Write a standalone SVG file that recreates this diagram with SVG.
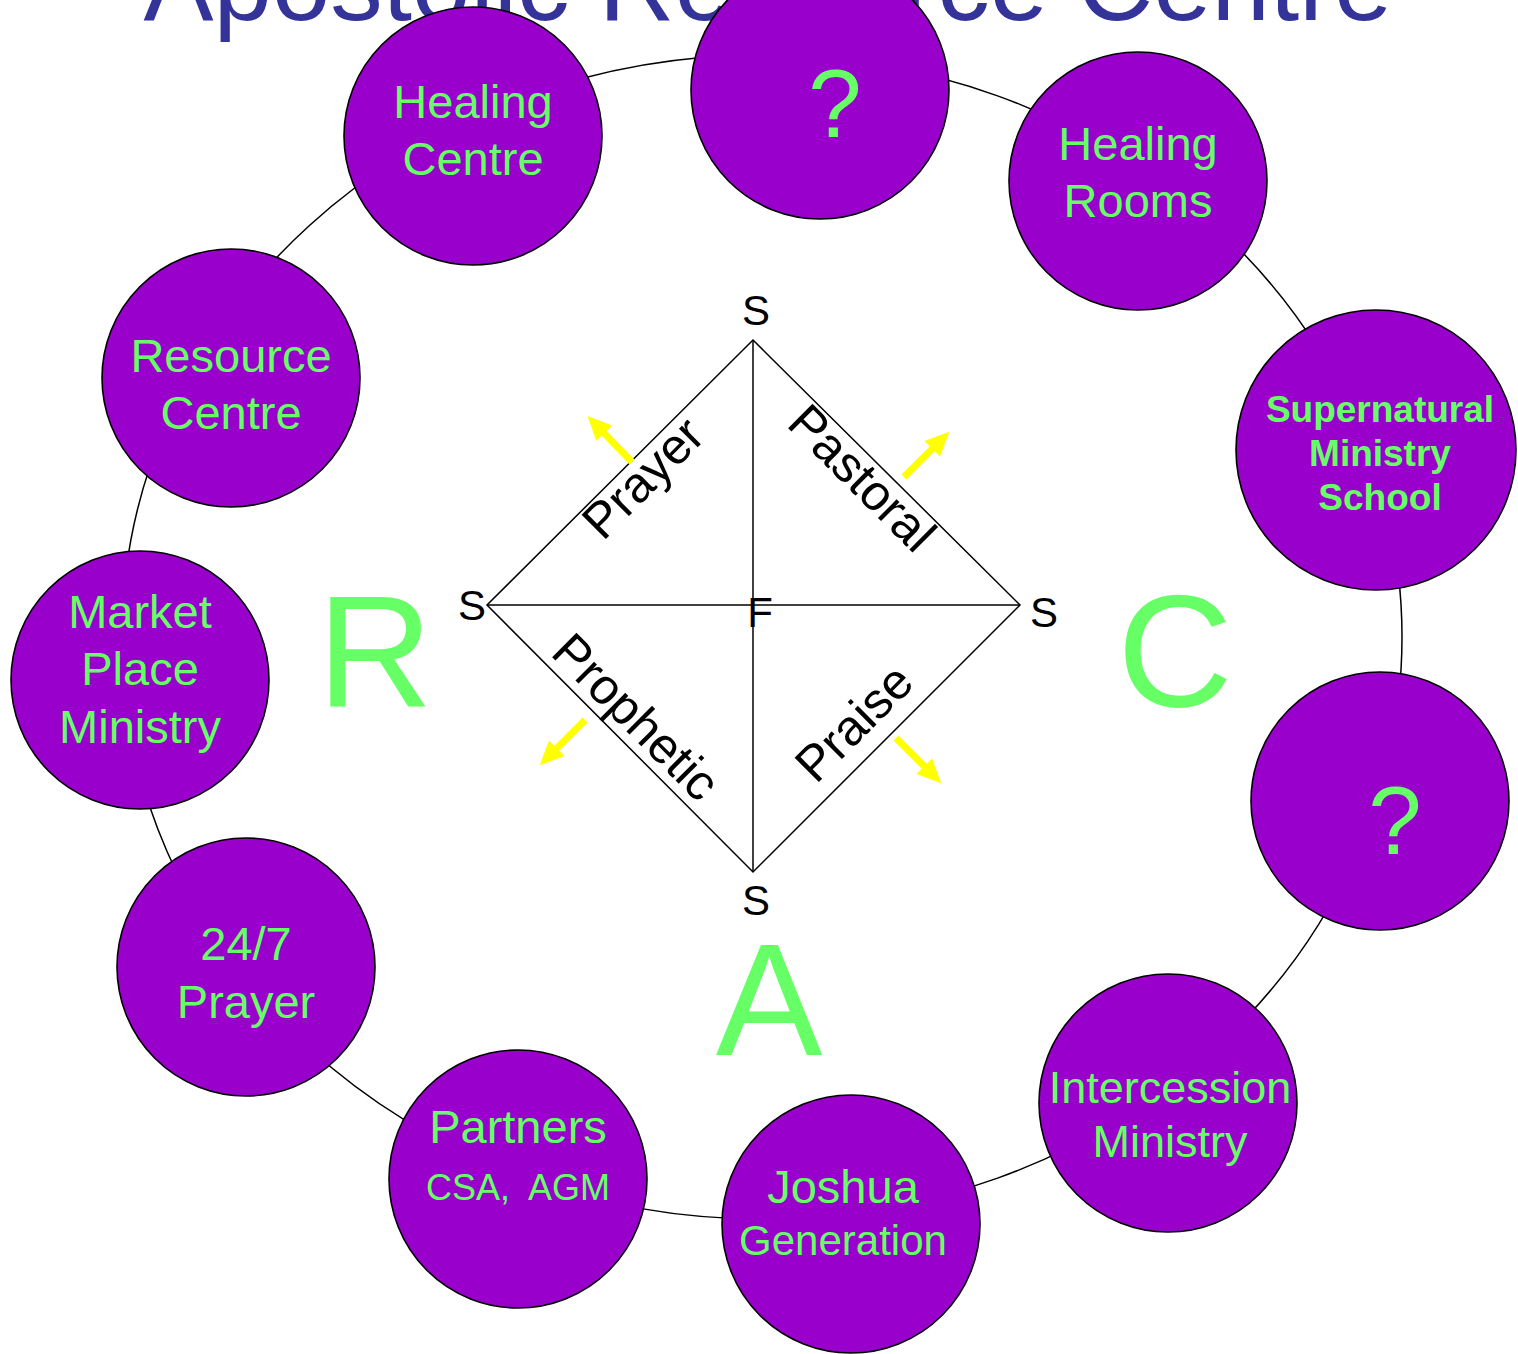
<svg xmlns="http://www.w3.org/2000/svg" width="1518" height="1354" viewBox="0 0 1518 1354">
<defs>
<style>
.node circle{fill:#9900CC;stroke:#000;stroke-width:1.6}
.lbl{font-family:"Liberation Sans",Arial,sans-serif;fill:#66FF66;text-anchor:middle;font-size:47px}
.bold{font-weight:bold;font-size:37px}
.q{font-size:96px}
.s45{font-size:45px}
.s42{font-size:42px}
.s36{font-size:36px}
.big{font-family:"Liberation Sans",Arial,sans-serif;fill:#66FF66;text-anchor:middle;font-size:160px}
.blk{font-family:"Liberation Sans",Arial,sans-serif;fill:#000;text-anchor:middle;font-size:42px}
.side{font-family:"Liberation Sans",Arial,sans-serif;fill:#000;text-anchor:middle;font-size:50px}
.edge{stroke:#000;stroke-width:1.5;fill:none}
</style>
<g id="arrowShape">
<line x1="0" y1="0" x2="44" y2="0" stroke="#FFFF00" stroke-width="7"/>
<polygon points="40,-11 64,0 40,11" fill="#FFFF00"/>
</g>
</defs>
<rect width="1518" height="1354" fill="#fff"/>
<text x="768" y="20" font-family="Liberation Sans, Arial, sans-serif" font-size="105" fill="#333399" text-anchor="middle">Apostolic Resource Centre</text>

<g id="connectors">
<ellipse class="edge" cx="762" cy="637" rx="640" ry="582"/>
<polygon class="edge" points="753,340 1020,605 753,872 487,605"/>
<line class="edge" x1="753" y1="340" x2="753" y2="872"/>
<line class="edge" x1="487" y1="605" x2="1020" y2="605"/>
</g>

<g id="diamond-labels">
<text class="blk" x="756" y="325">S</text>
<text class="blk" x="472" y="620">S</text>
<text class="blk" x="1044" y="627">S</text>
<text class="blk" x="756" y="915">S</text>
<text class="blk" x="760" y="627">F</text>
<text class="side" transform="translate(655,490) rotate(-45)">Prayer</text>
<text class="side" transform="translate(850,490) rotate(45)">Pastoral</text>
<text class="side" transform="translate(624,729) rotate(45)">Prophetic</text>
<text class="side" transform="translate(866,735) rotate(-45)">Praise</text>
</g>

<g id="arrows">
<use href="#arrowShape" transform="translate(632,462) rotate(-134)"/>
<use href="#arrowShape" transform="translate(904,477) rotate(-45)"/>
<use href="#arrowShape" transform="translate(585,720) rotate(135)"/>
<use href="#arrowShape" transform="translate(896,738) rotate(45)"/>
</g>

<g id="letters">
<text class="big" x="375" y="707">R</text>
<text class="big" x="1175" y="706">C</text>
<text class="big" x="769" y="1055">A</text>
</g>

<g id="n-healing-centre" class="node"><circle cx="473" cy="136" r="129"/><text class="lbl" x="473" y="118">Healing</text><text class="lbl" x="473" y="175">Centre</text></g>
<g id="n-q-top" class="node"><circle cx="820" cy="90" r="129"/><text class="lbl q" x="835" y="137">?</text></g>
<g id="n-healing-rooms" class="node"><circle cx="1138" cy="181" r="129"/><text class="lbl" x="1138" y="160">Healing</text><text class="lbl" x="1138" y="217">Rooms</text></g>
<g id="n-sms" class="node"><circle cx="1376" cy="450" r="140"/><text class="lbl bold" x="1380" y="422">Supernatural</text><text class="lbl bold" x="1380" y="466">Ministry</text><text class="lbl bold" x="1380" y="510">School</text></g>
<g id="n-q-right" class="node"><circle cx="1380" cy="801" r="129"/><text class="lbl q" x="1395" y="854">?</text></g>
<g id="n-intercession" class="node"><circle cx="1168" cy="1103" r="129"/><text class="lbl s45" x="1170" y="1103">Intercession</text><text class="lbl s45" x="1170" y="1157">Ministry</text></g>
<g id="n-joshua" class="node"><circle cx="851" cy="1224" r="129"/><text class="lbl" x="843" y="1203">Joshua</text><text class="lbl s42" x="843" y="1255">Generation</text></g>
<g id="n-partners" class="node"><circle cx="518" cy="1179" r="129"/><text class="lbl" x="518" y="1143">Partners</text><text class="lbl s36" x="518" y="1200" xml:space="preserve">CSA,  AGM</text></g>
<g id="n-247" class="node"><circle cx="246" cy="967" r="129"/><text class="lbl" x="246" y="960">24/7</text><text class="lbl" x="246" y="1018">Prayer</text></g>
<g id="n-market" class="node"><circle cx="140" cy="680" r="129"/><text class="lbl" x="140" y="628">Market</text><text class="lbl" x="140" y="685">Place</text><text class="lbl" x="140" y="743">Ministry</text></g>
<g id="n-resource" class="node"><circle cx="231" cy="378" r="129"/><text class="lbl" x="231" y="372">Resource</text><text class="lbl" x="231" y="429">Centre</text></g>
</svg>
